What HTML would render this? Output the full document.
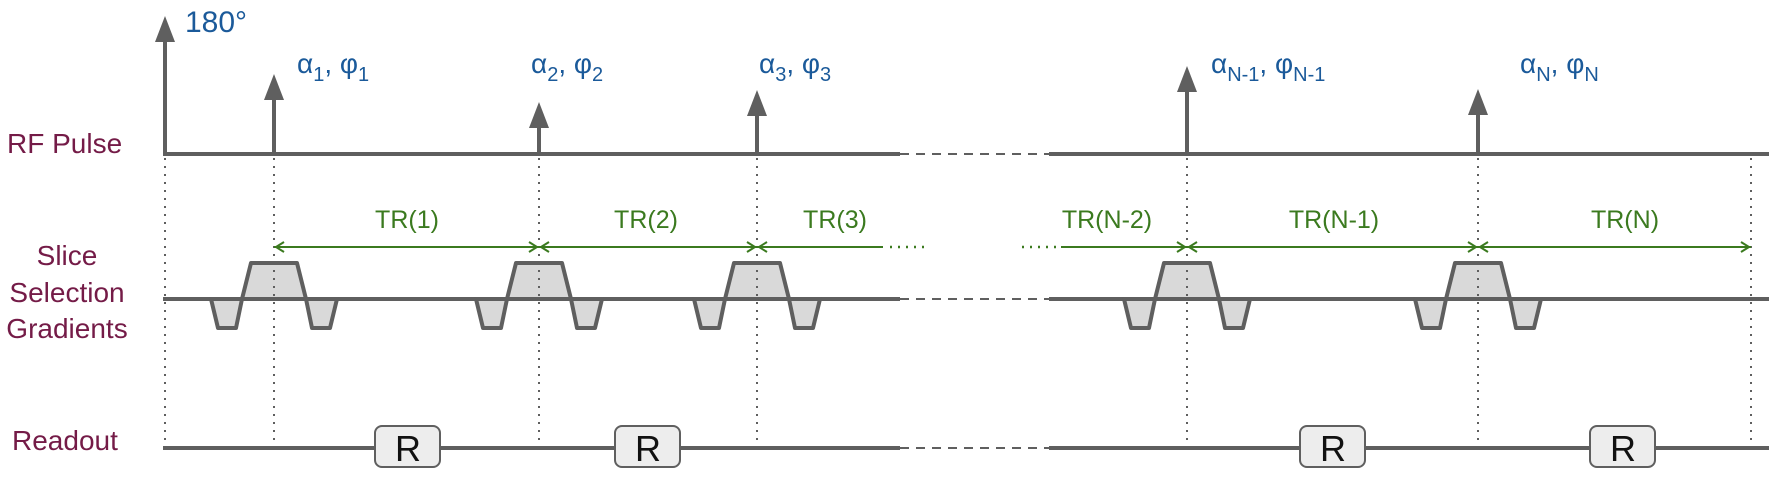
<!DOCTYPE html>
<html><head><meta charset="utf-8">
<style>
html,body{margin:0;padding:0;background:#fff;}
svg{display:block;font-family:"Liberation Sans",Arial,sans-serif;}
</style></head>
<body>
<svg id="chart" width="1773" height="478" viewBox="0 0 1773 478">
<g id="labels" fill="#741b47" font-size="28">
  <text x="7" y="153">RF Pulse</text>
  <text x="67" y="265" text-anchor="middle">Slice</text>
  <text x="67" y="302" text-anchor="middle">Selection</text>
  <text x="67" y="338" text-anchor="middle">Gradients</text>
  <text x="12" y="450">Readout</text>
</g>
<g id="marks"></g>
</svg>
<script>
const pulseX = [274, 539, 757, 1187, 1478];
const pulseTop = [74, 102, 90, 66, 89];
const pulseLabels = [["1","1"],["2","2"],["3","3"],["N-1","N-1"],["N","N"]];
const labelX = [297, 531, 759, 1211, 1520];
const trLabels = ["TR(1)","TR(2)","TR(3)","TR(N-2)","TR(N-1)","TR(N)"];
const trCenters = [407, 646, 835, 1107, 1334, 1625];
const readoutX = [375, 615, 1300, 1590];

const NS="http://www.w3.org/2000/svg";
const g=document.getElementById('marks');
const GR="#5f5f5f", BL="#1b5a9a", GN="#3b7a1f";
function mk(t,a){const e=document.createElementNS(NS,t);for(const k in a)e.setAttribute(k,a[k]);g.appendChild(e);return e;}
const rfY=154, grY=299, roY=448, trY=247, startX=165, endX=1769, lastX=1751, gapA=900, gapB=1049;

[startX].concat(pulseX).forEach((x,i)=>{
  const l=mk('line',{x1:x,y1:rfY+4,x2:x,y2:roY,stroke:GR,'stroke-width':2,'stroke-dasharray':'2,6'});
  
  
});
{const l=mk('line',{x1:lastX,y1:rfY+4,x2:lastX,y2:roY,stroke:GR,'stroke-width':2,'stroke-dasharray':'2,6'});

}

[[rfY,'rf'],[grY,'gradient'],[roY,'readout']].forEach(([y,n])=>{
  let a=mk('line',{x1:startX-2,y1:y,x2:gapA,y2:y,stroke:GR,'stroke-width':4});
  
  
  let b=mk('line',{x1:gapA,y1:y,x2:gapB,y2:y,stroke:GR,'stroke-width':2,'stroke-dasharray':'9,7'});
  
  
  let c=mk('line',{x1:gapB,y1:y,x2:endX,y2:y,stroke:GR,'stroke-width':4});
  
  
});

function arrow(x,top,name){
  const l=mk('line',{x1:x,y1:rfY,x2:x,y2:top+24,stroke:GR,'stroke-width':4});
  
  
  const p=mk('polygon',{points:`${x-10},${top+26} ${x+10},${top+26} ${x},${top}`,fill:GR});
  
  
}
arrow(startX,16,'inversion-pulse');
{const t=mk('text',{x:185,y:32,fill:BL,'font-size':30});t.textContent='180°';

}

pulseX.forEach((x,i)=>{
  arrow(x,pulseTop[i],'rf-pulse-'+(i+1));
  const t=mk('text',{x:labelX[i],y:73,fill:BL,'font-size':28});
  t.innerHTML=`α<tspan font-size="20" dy="8">${pulseLabels[i][0]}</tspan><tspan dy="-8">, φ</tspan><tspan font-size="20" dy="8">${pulseLabels[i][1]}</tspan>`;
  
  
});

pulseX.forEach((c,i)=>{
  const main=mk('polygon',{points:`${c-32},${grY} ${c-23},${263} ${c+23},${263} ${c+32},${grY}`,fill:'#d9d9d9',stroke:GR,'stroke-width':4,'stroke-linejoin':'round'});
  
  
  const l=mk('polygon',{points:`${c-63},${grY} ${c-56},${328} ${c-38},${328} ${c-32},${grY}`,fill:'#d9d9d9',stroke:GR,'stroke-width':4,'stroke-linejoin':'round'});
  
  
  const r=mk('polygon',{points:`${c+32},${grY} ${c+38},${328} ${c+56},${328} ${c+63},${grY}`,fill:'#d9d9d9',stroke:GR,'stroke-width':4,'stroke-linejoin':'round'});
  
  
  const d=mk('line',{x1:c,y1:rfY+4,x2:c,y2:roY,stroke:GR,'stroke-width':2,'stroke-dasharray':'2,6'});
  
  
});

function trArrow(x1,x2,h1,h2,name){
  const l=mk('line',{x1:x1,y1:trY,x2:x2,y2:trY,stroke:GN,'stroke-width':2});
  
  
  if(h1){const p=mk('polyline',{points:`${x1+10},${trY-5} ${x1+2},${trY} ${x1+10},${trY+5}`,fill:'none',stroke:GN,'stroke-width':2});
  
  }
  if(h2){const p=mk('polyline',{points:`${x2-10},${trY-5} ${x2-2},${trY} ${x2-10},${trY+5}`,fill:'none',stroke:GN,'stroke-width':2});
  
  }
}
trArrow(pulseX[0],pulseX[1],1,1,'tr-arrow-1');
trArrow(pulseX[1],pulseX[2],1,1,'tr-arrow-2');
trArrow(pulseX[2],883,1,0,'tr-arrow-3');
trArrow(1061,pulseX[3],0,1,'tr-arrow-n-2');
trArrow(pulseX[3],pulseX[4],1,1,'tr-arrow-n-1');
trArrow(pulseX[4],lastX,1,1,'tr-arrow-n');
[[890,926],[1022,1057]].forEach(([a,b],i)=>{
  const d=mk('line',{x1:a,y1:trY,x2:b,y2:trY,stroke:GN,'stroke-width':2.5,'stroke-dasharray':'2,6'});
  
  
});
trLabels.forEach((s,i)=>{
  const t=mk('text',{x:trCenters[i],y:228,fill:GN,'font-size':25,'text-anchor':'middle'});
  t.textContent=s;
  
  
});

readoutX.forEach((x,i)=>{
  const r=mk('rect',{x:x,y:426,width:65,height:41,rx:7,fill:'#ededed',stroke:GR,'stroke-width':2});
  
  
  const t=mk('text',{x:x+33,y:461,'font-size':36,'text-anchor':'middle',fill:'#111'});
  t.textContent='R';
  
  
});
</script>
</body></html>
